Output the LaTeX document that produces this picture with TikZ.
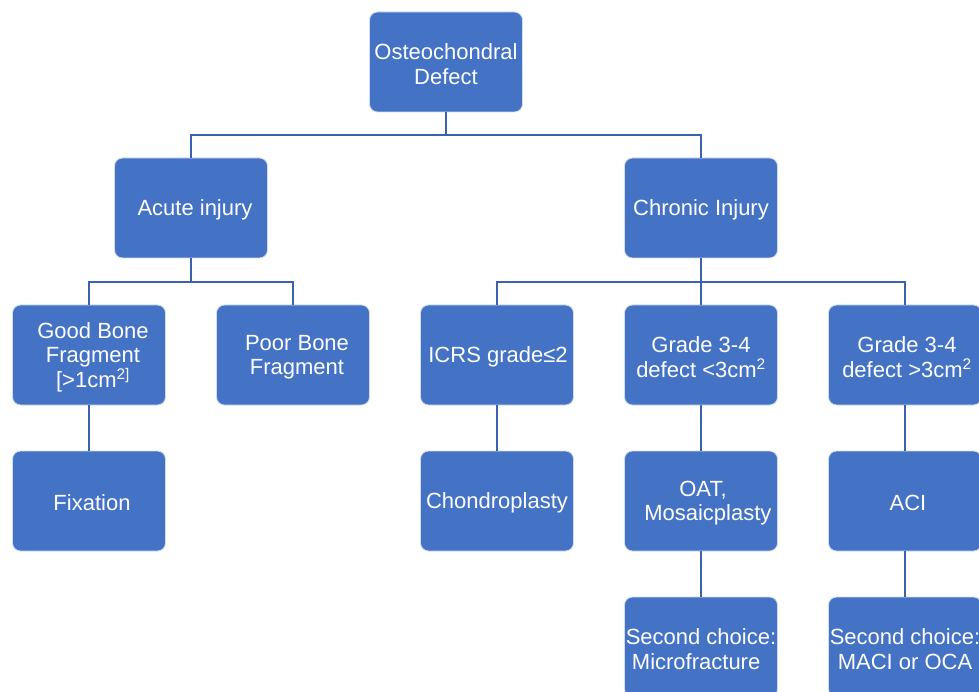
\documentclass[tikz,border=0pt]{standalone}
\usepackage{fontspec}
\setmainfont{Liberation Sans}
\usetikzlibrary{calc}
\definecolor{boxblue}{HTML}{4472C4}
\definecolor{linkblue}{HTML}{3A62AE}
\tikzset{
  box/.style={rectangle, rounded corners=8pt, fill=boxblue, draw=white!75!boxblue, line width=0.8pt,
    minimum width=153pt, minimum height=100pt, inner sep=0pt},
  txt/.style={text=white, align=center, font=\fontsize{22}{24.5}\selectfont, inner sep=0pt},
  link/.style={draw=linkblue, line width=2.5pt}
}
\newcommand\bx[4]{\node[box] (#1) at (#2) {}; \node[txt] (#1-t) at ($(#2)+(#3,2)$) {#4};}
\begin{document}
\begin{tikzpicture}[x=1pt,y=-1pt]
\useasboundingbox (0,0) rectangle (979,692);
\clip (0,0) rectangle (979,692);
\coordinate (j1) at (446,135);
\coordinate (j2) at (191,282);
\coordinate (j3) at (701,282);
\bx{top}{446,62}{0}{Osteochondral\\Defect}
\bx{acute}{191,208}{4}{Acute injury}
\bx{chronic}{701,208}{0}{Chronic Injury}
\bx{good}{89,355}{4}{Good Bone\\Fragment\\{[>1cm\textsuperscript{2]}}}
\bx{poor}{293,355}{4}{Poor Bone\\Fragment}
\bx{icrs}{497,355}{1}{ICRS grade≤2}
\bx{small}{701,355}{0}{Grade 3-4\\defect <3cm\textsuperscript{2}}
\bx{large}{905,355}{2}{Grade 3-4\\defect >3cm\textsuperscript{2}}
\bx{fix}{89,501}{3}{Fixation}
\bx{chondro}{497,501}{0}{Chondroplasty}
\bx{oat}{701,501}{2}{OAT,\\\hphantom{ii}Mosaicplasty}
\bx{aci}{905,501}{3}{ACI}
\bx{micro}{701,647}{0}{Second choice:\\Microfracture\hphantom{ii}}
\bx{maci}{905,647}{0}{Second choice:\\MACI or OCA}
\draw[link] (top.south) -- (j1);
\draw[link] (acute.north) |- (j1) -| (chronic.north);
\draw[link] (acute.south) -- (j2);
\draw[link] (good.north) |- (j2) -| (poor.north);
\draw[link] (chronic.south) -- (j3);
\draw[link] (icrs.north) |- (j3) -| (large.north);
\draw[link] (j3) -- (small.north);
\draw[link] (good.south) -- (fix.north);
\draw[link] (icrs.south) -- (chondro.north);
\draw[link] (small.south) -- (oat.north);
\draw[link] (large.south) -- (aci.north);
\draw[link] (oat.south) -- (micro.north);
\draw[link] (aci.south) -- (maci.north);
\end{tikzpicture}
\end{document}
